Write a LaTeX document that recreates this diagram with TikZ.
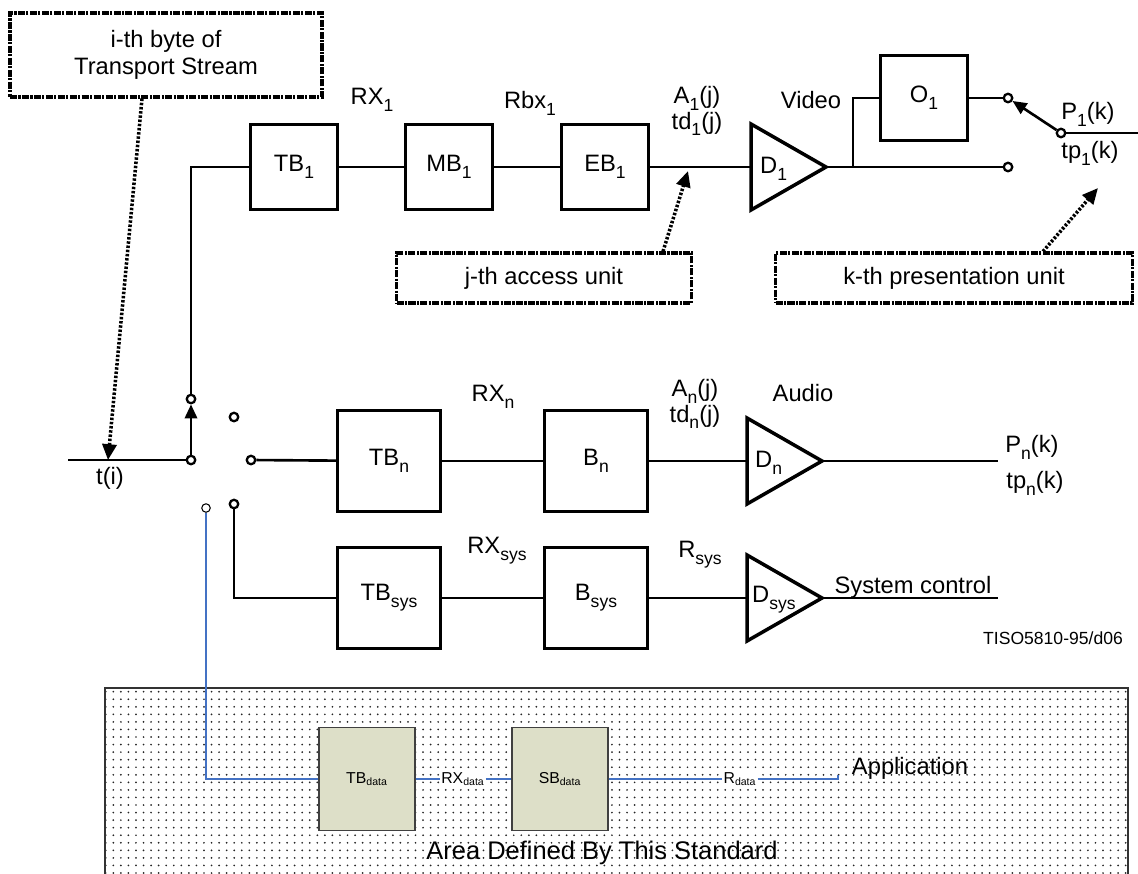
\documentclass[tikz,border=0pt]{standalone}
\usepackage{fontspec}
\setmainfont{Liberation Sans}
\usetikzlibrary{calc}
\usetikzlibrary{shapes.geometric}
\usetikzlibrary{arrows.meta}
\usetikzlibrary{patterns.meta}

\definecolor{bufgreen}{RGB}{221,223,200}
\definecolor{datablue}{RGB}{68,114,196}
\newcommand{\lo}[1]{\raisebox{-0.55ex}{\fontsize{10}{10}\selectfont #1}}

\tikzset{
    lbl/.style={font=\fontsize{13.5}{14}\selectfont,inner sep=1pt},
    buf/.style={draw,line width=1.7pt,inner sep=0pt,outer sep=0pt,minimum width=1.74cm,minimum height=1.7cm,font=\fontsize{13.5}{14}\selectfont},
    bigbuf/.style={buf,minimum width=2.06cm,minimum height=2.02cm},
    dec/.style={draw,line width=2pt,isosceles triangle,isosceles triangle stretches,minimum width=1.72cm,minimum height=1.5cm,inner sep=0pt,outer sep=0pt},
    pin/.style={circle,draw,fill=white,line width=1.3pt,minimum size=0.17cm,inner sep=0pt},
    wire/.style={line width=1.5pt},
    callout/.style={draw,line width=1.8pt,dash pattern=on 4pt off 0.8pt on 1.2pt off 0.8pt,font=\fontsize{13.5}{14}\selectfont},
    callarrow/.style={line width=2pt,dash pattern=on 1.4pt off 1pt,-{Triangle[length=9pt,width=8pt]}},
    databuf/.style={draw=black!75,fill=bufgreen,line width=0.6pt,minimum width=1.92cm,minimum height=2.06cm,inner sep=0pt,font=\fontsize{9}{10}\selectfont},
    dataline/.style={draw=datablue,line width=0.6pt},
}

\begin{document}
\begin{tikzpicture}[x=0.02cm,y=-0.02cm]
    \useasboundingbox (0,0) rectangle (1138,873);
    \clip (0,0) rectangle (1138,873);

    % area defined by the standard
    \path[draw=black!80,line width=0.8pt,pattern={Dots[distance=4.3pt,radius=0.55pt]},pattern color=black!85] (105,688) rectangle (1128,890);

    % callouts
    \node[callout,minimum width=6.24cm,minimum height=1.68cm,align=center] (tsbox) at (166,55) {i-th byte of\\[1pt]Transport Stream};
    \node[callout,minimum width=5.9cm,minimum height=1cm] (jbox) at (544,278) {j-th access unit};
    \node[callout,minimum width=7.14cm,minimum height=1cm] (kbox) at (954,278) {k-th presentation unit};

    % buffers
    \foreach \n/\t/\x/\y in {tb1/TB\lo{1}/294/167,mb1/MB\lo{1}/449/167,eb1/EB\lo{1}/605/167,o1/O\lo{1}/924/98}{
        \node[buf] (\n) at (\x,\y) {\t};
    };
    \foreach \n/\t/\x/\y in {tbn/TB\lo{n}/389/461,bn/B\lo{n}/596/461,tbsys/TB\lo{sys}/389/598,bsys/B\lo{sys}/596/598}{
        \node[bigbuf] (\n) at (\x,\y) {\t};
    };

    % decoders
    \node[dec,anchor=lower side] (d1) at (751,167) {};
    \node[dec,anchor=lower side] (dn) at (747,461) {};
    \node[dec,anchor=lower side] (dsys) at (747,598) {};
    \node[lbl,anchor=west] (d1t) at ($(d1.lower side)+(7,2)$) {D\lo{1}};
    \node[lbl,anchor=west] (dnt) at ($(dn.lower side)+(6,2)$) {D\lo{n}};
    \node[lbl,anchor=west] (dsyst) at ($(dsys.lower side)+(3,2)$) {D\lo{sys}};

    % switch contacts
    \foreach \n/\x/\y in {sw0/191/460,sw1/191/399,p2/234/417,p3/251/460,p4/234/504,vo1/1008/98,vo2/1008/167,sel/1061/133}{
        \node[pin] (\n) at (\x,\y) {};
    };
    \node[circle,draw,fill=white,line width=0.6pt,minimum size=0.17cm,inner sep=0pt] (pd) at (206,508) {};

    \coordinate (tin) at (68,460);
    \coordinate (tdrop) at (108,460);
    \coordinate (br) at (853,167);
    \coordinate (pout) at (1138,133);
    \coordinate (pnout) at (998,461);
    \coordinate (sysout) at (998,598);
    \coordinate (jtip) at (688,171);
    \coordinate (ktip) at (1098,188);

    % wires
    \draw[wire] (tin) -- (sw0);
    \draw[wire,-{Triangle[length=8pt,width=7pt]}] (sw0) -- (sw1);
    \draw[wire] (sw1) |- (tb1);
    \draw[wire] (tb1) -- (mb1);
    \draw[wire] (mb1) -- (eb1);
    \draw[wire] (eb1) -- (d1);
    \draw[wire] (d1.apex) -- (vo2);
    \draw[wire] (br) |- (o1);
    \draw[wire] (o1) -- (vo1);
    \draw[wire,-{Triangle[length=8pt,width=7pt]}] (sel) -- (vo1);
    \draw[wire] (sel) -- (pout);
    \draw[wire] (p3) -- (tbn);
    \draw[wire] (tbn) -- (bn);
    \draw[wire] (bn) -- (dn);
    \draw[wire] (dn.apex) -- (pnout);
    \draw[wire] (p4) |- (tbsys);
    \draw[wire] (tbsys) -- (bsys);
    \draw[wire] (bsys) -- (dsys);
    \draw[wire] (dsys.apex) -- (sysout);

    % callout arrows
    \draw[callarrow] ($(tsbox.south)+(-24,0)$) -- (tdrop);
    \draw[callarrow] ($(jbox.north)+(119,0)$) -- (jtip);
    \draw[callarrow] ($(kbox.north)+(89,0)$) -- (ktip);

    % labels
    \node[lbl] (tlab) at (110,478) {t(i)};
    \node[lbl] (rx1) at (372,100) {RX\lo{1}};
    \node[lbl] (rbx1) at (530,103) {Rbx\lo{1}};
    \node[lbl,align=center,font=\fontsize{13.5}{11.5}\selectfont] (a1) at (697,111) {A\lo{1}(j)\\td\lo{1}(j)};
    \node[lbl] (video) at (811,100) {Video};
    \node[lbl] (p1) at (1088,114) {P\lo{1}(k)};
    \node[lbl] (tp1) at (1090,153) {tp\lo{1}(k)};
    \node[lbl] (rxn) at (493,397) {RX\lo{n}};
    \node[lbl,align=center,font=\fontsize{13.5}{11.5}\selectfont] (an) at (695,404) {A\lo{n}(j)\\td\lo{n}(j)};
    \node[lbl] (audio) at (803,393) {Audio};
    \node[lbl] (pn) at (1032,447) {P\lo{n}(k)};
    \node[lbl] (tpn) at (1035,483) {tp\lo{n}(k)};
    \node[lbl] (rxsys) at (497,551) {RX\lo{sys}};
    \node[lbl] (rsys) at (700,555) {R\lo{sys}};
    \node[lbl,anchor=base] (sysctl) at (913,593) {System control};
    \node[font=\fontsize{10}{11}\selectfont] (tiso) at (1053,638) {TISO5810-95/d06};

    % data path
    \node[databuf] (tbdata) at (367,779) {TB\textsubscript{data}};
    \node[databuf] (sbdata) at (560,779) {SB\textsubscript{data}};
    \node[fill=white,inner sep=0.5pt,font=\fontsize{9}{10}\selectfont] (rxdata) at (463,779) {RX\textsubscript{data}};
    \node[fill=white,inner sep=0.5pt,font=\fontsize{9}{10}\selectfont] (rdata) at (740,779) {R\textsubscript{data}};
    \coordinate (appin) at (838,779);
    \draw[dataline] (pd) |- (tbdata);
    \draw[dataline] (tbdata) -- (rxdata) -- (sbdata);
    \draw[dataline] (sbdata) -- (rdata) -- (appin) -- ++(0,-4);
    \node[font=\fontsize{13.5}{14}\selectfont] (app) at (910,768) {Application};
    \node[font=\fontsize{14.5}{15}\selectfont] (area) at (602,853) {Area Defined By This Standard};
\end{tikzpicture}
\end{document}
